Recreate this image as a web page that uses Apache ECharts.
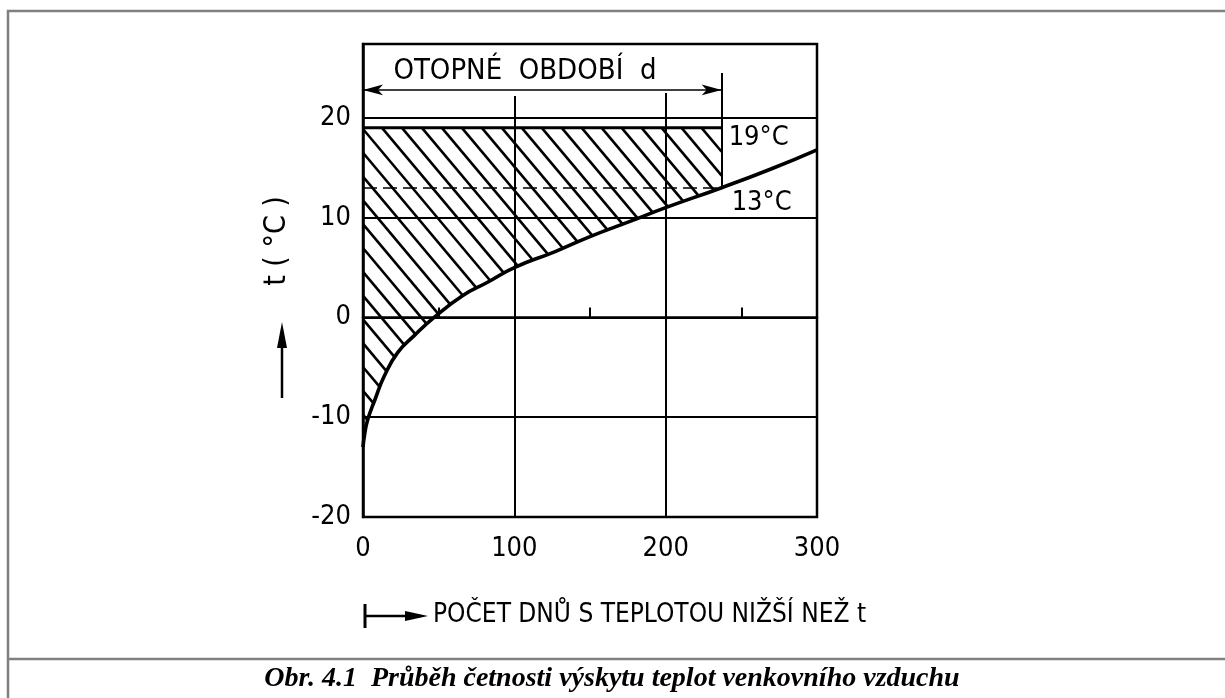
<!DOCTYPE html>
<html>
<head>
<meta charset="utf-8">
<title>Průběh četnosti výskytu teplot venkovního vzduchu</title>
<script src="https://cdn.jsdelivr.net/npm/echarts@6/dist/echarts.min.js"></script>
<style>
  html, body { margin: 0; padding: 0; background: #fff; }
  #chart { width: 1225px; height: 698px; }
</style>
</head>
<body>
<div id="chart"></div>
<script>
// hodnoty (počet dnů -> teplota t)
var dny = [0, 1, 3, 8, 14, 23, 34, 47, 66, 82, 100, 127, 150, 176, 200, 237, 270, 300];
var teploty = [-13.0, -11.8, -10.3, -8.2, -5.9, -3.5, -1.8, 0, 2.2, 3.5, 5.0, 6.6, 8.1, 9.6, 11.0, 13.0, 14.9, 16.8];
var xPopisky = [0, 100, 200, 300];
var yPopisky = [-20, -10, 0, 10, 20];
var tVnitrni = 19;      // °C
var tMezni = 13;        // °C
var delkaObdobi = 237;  // dní (otopné období d)

var font = "'DejaVu Sans Condensed', 'Liberation Sans Narrow', sans-serif";

// krivka
var krivka = dny.map(function (d, i) { return [d, teploty[i]]; });
// cast krivky v otopnem obdobi -> spodni hranice srafovane plochy
var zaklad = krivka.filter(function (p) { return p[0] <= delkaObdobi; });

// srafovani plochy mezi 19 °C a krivkou (cary pod uhlem, orezane polygonem)
function kresliSrafu(params, api) {
  if (params.dataIndex !== 0) return null;
  var obrys = [api.coord([0, tVnitrni])];
  zaklad.forEach(function (p) { obrys.push(api.coord(p)); });
  obrys.push(api.coord([delkaObdobi, tVnitrni]));

  var uhel = 50 * Math.PI / 180;
  var dx = Math.cos(uhel), dy = Math.sin(uhel);
  var nx = dy, ny = -dx;
  var krok = 15.3;
  var cs = obrys.map(function (p) { return p[0] * nx + p[1] * ny; });
  var cmin = Math.min.apply(null, cs), cmax = Math.max.apply(null, cs);
  var c0 = (obrys[0][0] + 19) * nx + obrys[0][1] * ny;
  var start = c0 - Math.ceil((c0 - cmin) / krok) * krok;

  var cary = [];
  for (var c = start; c <= cmax; c += krok) {
    var body = [];
    for (var i = 0; i < obrys.length; i++) {
      var a = obrys[i], b = obrys[(i + 1) % obrys.length];
      var sa = a[0] * nx + a[1] * ny - c;
      var sb = b[0] * nx + b[1] * ny - c;
      if ((sa < 0) !== (sb < 0)) {
        var t = sa / (sa - sb);
        body.push([a[0] + t * (b[0] - a[0]), a[1] + t * (b[1] - a[1])]);
      }
    }
    body.sort(function (p, q) { return (p[0] * dx + p[1] * dy) - (q[0] * dx + q[1] * dy); });
    for (var k = 0; k + 1 < body.length; k += 2) {
      cary.push({
        type: 'line',
        shape: { x1: body[k][0], y1: body[k][1], x2: body[k + 1][0], y2: body[k + 1][1] },
        style: { stroke: '#000', lineWidth: 2.6 }
      });
    }
  }
  return { type: 'group', children: cary };
}

var chart = echarts.init(document.getElementById('chart'));

var option = {
  animation: false,
  backgroundColor: '#fff',
  grid: {
    left: 363, right: 408, top: 44, bottom: 181,
    show: true,
    borderColor: '#000',
    borderWidth: 2.5,
    outerBoundsMode: 'none'
  },
  xAxis: {
    type: 'value',
    min: 0, max: 300, interval: 50,
    axisLine: { show: true, lineStyle: { color: '#000', width: 2.5 } },
    axisTick: { show: true, inside: true, length: 10, lineStyle: { color: '#000', width: 2 } },
    splitLine: { show: false },
    axisLabel: {
      margin: 18,
      color: '#000',
      fontFamily: font,
      fontSize: 27,
      formatter: function (v) { return xPopisky.indexOf(v) >= 0 ? String(v) : ''; }
    }
  },
  yAxis: {
    type: 'value',
    min: -20, max: 27.4, interval: 10,
    axisLine: { show: true, lineStyle: { color: '#000', width: 2.5 } },
    axisTick: { show: false },
    splitLine: { show: true, lineStyle: { color: '#000', width: 2 } },
    axisLabel: {
      margin: 12,
      color: '#000',
      fontFamily: font,
      fontSize: 27,
      formatter: function (v) { return yPopisky.indexOf(v) >= 0 ? String(v) : ''; }
    }
  },
  series: [
    {
      type: 'custom',
      data: zaklad,
      encode: { x: 0, y: 1 },
      renderItem: kresliSrafu,
      clip: false,
      silent: true,
      z: 2
    },
    {
      // hranice vnitrni teploty 19 °C
      type: 'line',
      data: [[0, tVnitrni], [delkaObdobi, tVnitrni]],
      symbol: 'none',
      silent: true,
      lineStyle: { color: '#000', width: 3 },
      markPoint: {
        silent: true,
        symbol: 'circle',
        symbolSize: 0,
        label: { show: true, color: '#000', fontFamily: font, fontSize: 27 },
        data: [
          { coord: [delkaObdobi, tVnitrni], label: { position: 'right', distance: 7, offset: [0, 10], formatter: tVnitrni + '°C' } },
          { coord: [delkaObdobi, tMezni], label: { position: 'right', distance: 10, offset: [0, 15], formatter: tMezni + '°C' } },
          { coord: [107, 24.6], label: { position: 'inside', fontSize: 29, formatter: 'OTOPNÉ  OBDOBÍ  d' } }
        ]
      },
      z: 3
    },
    {
      type: 'line',
      data: krivka,
      smooth: 0.5,
      symbol: 'none',
      silent: true,
      lineStyle: { color: '#000', width: 3.6 },
      markLine: {
        silent: true,
        symbol: ['none', 'none'],
        label: { show: false },
        lineStyle: { color: '#000', width: 2, type: 'solid' },
        data: [
          [{ coord: [100, -20] }, { coord: [100, 22.2] }],
          [{ coord: [200, -20] }, { coord: [200, 22.5] }],
          [{ coord: [delkaObdobi, tMezni] }, { coord: [delkaObdobi, 24.5] }],
          [{ coord: [0, tMezni], lineStyle: { width: 1.5, type: [14, 6] } }, { coord: [delkaObdobi, tMezni] }],
          [
            { coord: [0, 22.8], symbol: 'arrow', symbolSize: [8, 20], lineStyle: { width: 1.5 } },
            { coord: [delkaObdobi, 22.8], symbol: 'arrow', symbolSize: [8, 20] }
          ]
        ]
      },
      z: 4
    }
  ],
  graphic: [
    // ramecek obrazku
    { type: 'polyline', silent: true, shape: { points: [[8, 698], [8, 11], [1225, 11]] }, style: { stroke: '#808080', lineWidth: 2.5, fill: null } },
    { type: 'line', silent: true, shape: { x1: 8, y1: 659, x2: 1225, y2: 659 }, style: { stroke: '#808080', lineWidth: 2.5 } },
    {
      type: 'text', silent: true, x: 612, y: 679,
      style: {
        text: 'Obr. 4.1  Průběh četnosti výskytu teplot venkovního vzduchu',
        fill: '#000', font: 'italic bold 28px "Liberation Serif", "Times New Roman", serif',
        textAlign: 'center', textVerticalAlign: 'middle'
      }
    },
    // popis osy y
    {
      type: 'text', silent: true, x: 277, y: 241, rotation: Math.PI / 2,
      style: { text: 't ( °C )', fill: '#000', font: '30px ' + font, textAlign: 'center', textVerticalAlign: 'middle' }
    },
    { type: 'line', silent: true, shape: { x1: 282, y1: 398, x2: 282, y2: 340 }, style: { stroke: '#000', lineWidth: 2.5 } },
    { type: 'polygon', silent: true, shape: { points: [[282, 322], [277, 348], [287, 348]] }, style: { fill: '#000' } },
    // popis osy x
    { type: 'line', silent: true, shape: { x1: 365, y1: 604, x2: 365, y2: 628 }, style: { stroke: '#000', lineWidth: 3 } },
    { type: 'line', silent: true, shape: { x1: 365, y1: 616, x2: 410, y2: 616 }, style: { stroke: '#000', lineWidth: 2.5 } },
    { type: 'polygon', silent: true, shape: { points: [[428, 616], [405, 611], [405, 621]] }, style: { fill: '#000' } },
    {
      type: 'text', silent: true, x: 433, y: 615,
      style: { text: 'POČET DNŮ S TEPLOTOU NIŽŠÍ NEŽ t', fill: '#000', font: '26px ' + font, textAlign: 'left', textVerticalAlign: 'middle' }
    }
  ]
};

chart.setOption(option);
</script>
</body>
</html>
